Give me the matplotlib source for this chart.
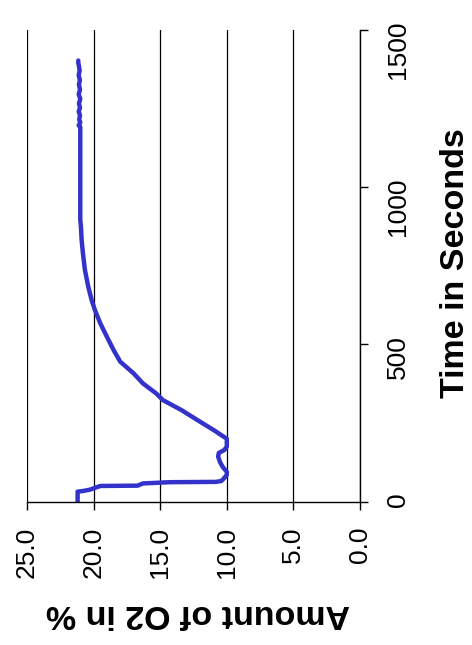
import matplotlib
matplotlib.use("Agg")
import matplotlib.pyplot as plt

plt.rcParams["font.family"] = ["Liberation Sans", "DejaVu Sans"]

time_s = [0, 32, 34, 38, 50, 51, 58, 62, 63, 66, 75, 85, 95, 110, 125, 143,
          155, 164, 175, 200, 228, 254, 291, 323, 344, 376, 408, 445, 482,
          524, 567, 609, 641, 683, 736, 789, 832, 874, 895, 950, 1050, 1150,
          1190, 1196, 1205, 1215, 1228, 1240, 1252, 1265, 1280, 1295, 1310,
          1325, 1340, 1355, 1370, 1385, 1395, 1402]
o2_pct = [21.2, 21.2, 20.8, 20.3, 19.5, 16.7, 16.3, 14.3, 10.8, 10.4, 10.2,
          10.0, 10.0, 10.3, 10.5, 10.65, 10.6, 10.2, 10.0, 10.0, 11.0, 12.0,
          13.4, 14.8, 15.3, 16.3, 17.0, 18.0, 18.5, 19.0, 19.5, 19.9, 20.15,
          20.4, 20.65, 20.8, 20.9, 20.95, 21.0, 21.0, 21.0, 21.0, 21.0, 21.12,
          21.0, 21.08, 21.02, 21.12, 21.02, 21.1, 21.0, 21.12, 21.02, 21.1,
          21.03, 21.12, 21.05, 21.1, 21.15, 21.15]

o2_ticks = [25.0, 20.0, 15.0, 10.0, 5.0, 0.0]
time_ticks = [0, 500, 1000, 1500]

fig = plt.figure(figsize=(4.72, 6.45), dpi=100)
ax = fig.add_axes([27 / 472, 143.3 / 645, 333 / 472, 472 / 645])

ax.plot(o2_pct, time_s, color="#3333CC", linewidth=3.2,
        solid_capstyle="round", solid_joinstyle="round")

ax.set_xlim(25, 0)
ax.set_ylim(0, 1500)
ax.set_xticks(o2_ticks)
ax.set_xticklabels([f"{v:.1f}" for v in o2_ticks])
ax.set_yticks(time_ticks)
ax.yaxis.tick_right()

for side in ["left", "top"]:
    ax.spines[side].set_visible(False)
for side in ["bottom", "right"]:
    ax.spines[side].set_color("black")
    ax.spines[side].set_linewidth(1.0)

ax.xaxis.grid(True, color="black", linewidth=0.9)
ax.set_axisbelow(True)

ax.tick_params(axis="x", labelrotation=90, length=6, width=1,
               labelsize=19, pad=12)
ax.tick_params(axis="y", labelrotation=90, length=6, width=1,
               labelsize=19, pad=13)

ax.set_xlabel("Amount of O2 in %", fontsize=24.5, fontweight="bold",
              rotation=180, va="center", ha="center")
ax.xaxis.set_label_coords(0.512, -0.236)
ax.yaxis.set_label_position("right")
ax.set_ylabel("Time in Seconds", fontsize=24.5, fontweight="bold",
              rotation=90, va="center", ha="center")
ax.yaxis.set_label_coords(1.288, 0.506)

fig.savefig("out.png", dpi=100)
